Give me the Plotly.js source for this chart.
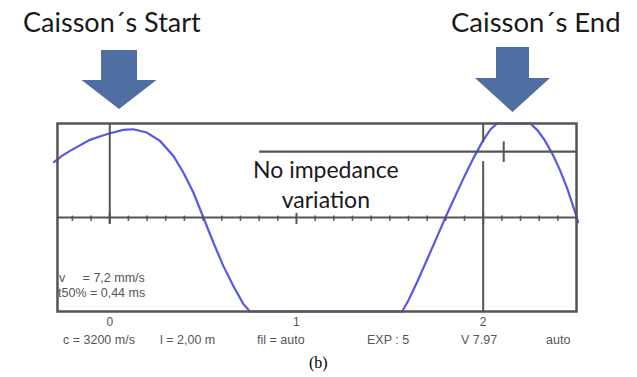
<!DOCTYPE html>
<html>
<head>
<meta charset="utf-8">
<script src="https://cdn.plot.ly/plotly-3.0.1.min.js"></script>
<style>html,body{margin:0;padding:0;background:#fff;}#chart{width:637px;height:377px;}</style>
</head>
<body>
<div id="chart"></div>
<script>
// ---- data ----
const timeX = [-0.302, -0.26, -0.213, -0.16, -0.106, -0.05, 0.002, 0.073, 0.126, 0.198, 0.269, 0.341, 0.394, 0.448, 0.501, 0.555, 0.608, 0.662, 0.716, 0.751,
               1.566, 1.60, 1.65, 1.70, 1.75, 1.80, 1.85, 1.90, 1.95, 2.00, 2.04, 2.075,
               2.253, 2.29, 2.33, 2.37, 2.41, 2.45, 2.49, 2.51];
const velocityY = [0.585, 0.65, 0.709, 0.77, 0.826, 0.865, 0.897, 0.932, 0.939, 0.904, 0.815, 0.655, 0.479, 0.266, -0.007, -0.266, -0.515, -0.728, -0.922, -1.0,
                   -1.0, -0.88, -0.67, -0.45, -0.22, 0.01, 0.23, 0.44, 0.64, 0.82, 0.94, 1.0,
                   1.0, 0.93, 0.82, 0.68, 0.51, 0.31, 0.07, -0.06];
const tickVals = [0, 1, 2];
const tickLabels = ["0", "1", "2"];
const minorTicks = [];
for (let i = -2; i <= 25; i++) minorTicks.push(i / 10);
const infoLabels = ["c = 3200 m/s", "l = 2,00 m", "fil = auto", "EXP : 5", "V 7.97", "auto"];
const statLabels = ["v\u00a0\u00a0\u00a0\u00a0\u00a0= 7,2 mm/s", "t50% = 0,44 ms"];
const titleStart = "Caisson´s Start";
const titleEnd = "Caisson´s End";
const noteText = "No impedance<br>variation";
const captionText = "(b)";

// ---- geometry helpers (pixels -> paper) ----
const W = 637, H = 377, ML = 50, MR = 53, MT = 116, MB = 58;
const PW = W - ML - MR, PH = H - MT - MB;
const px = v => (v - ML) / PW;
const py = v => (H - MB - v) / PH;

const grey = "rgb(85,85,85)";
const shapes = [];
// frame
shapes.push({type: "rect", xref: "x", yref: "y", x0: -0.28, x1: 2.5, y0: -1, y1: 1, line: {color: grey, width: 2.5}});
// midline
shapes.push({type: "line", xref: "x", yref: "y", x0: -0.28, x1: 2.5, y0: 0, y1: 0, line: {color: grey, width: 2.2}});
// minor / major ticks on midline
minorTicks.forEach(t => {
  const major = Math.abs(t - Math.round(t)) < 1e-6;
  if (t < -0.28 || t > 2.5) return;
  shapes.push({type: "line", xref: "x", yref: "y", x0: t, x1: t,
    y0: major ? -0.07 : -0.035, y1: major ? 0.05 : 0.02, line: {color: grey, width: major ? 2 : 1.6}});
});
// vertical at 0
shapes.push({type: "line", xref: "x", yref: "y", x0: 0, x1: 0, y0: -0.06, y1: 1, line: {color: grey, width: 2}});
// vertical at 2 (two segments)
shapes.push({type: "line", xref: "x", yref: "y", x0: 2, x1: 2, y0: 0.80, y1: 1, line: {color: grey, width: 2}});
shapes.push({type: "line", xref: "x", yref: "y", x0: 2, x1: 2, y0: -1, y1: 0.60, line: {color: grey, width: 2}});
// upper horizontal line + small tick
shapes.push({type: "line", xref: "x", yref: "y", x0: 0.80, x1: 2.5, y0: 0.70, y1: 0.70, line: {color: grey, width: 2.2}});
shapes.push({type: "line", xref: "x", yref: "y", x0: 2.11, x1: 2.11, y0: 0.59, y1: 0.81, line: {color: grey, width: 2}});

// arrows
function arrow(cx, shaftHalf, top, headY, headHalf, tipY) {
  const pts = [[cx - shaftHalf, top], [cx + shaftHalf, top], [cx + shaftHalf, headY], [cx + headHalf, headY],
               [cx, tipY], [cx - headHalf, headY], [cx - shaftHalf, headY]];
  return {type: "path", xref: "paper", yref: "paper",
    path: "M" + pts.map(p => px(p[0]) + "," + py(p[1])).join(" L") + " Z",
    fillcolor: "rgb(79,111,163)", line: {width: 0}};
}
shapes.push(arrow(119, 18, 50, 80, 37.5, 109));
shapes.push(arrow(512.5, 16.5, 47, 78, 37.5, 112));

const annotations = [];
const ann = (text, x, y, size, color, family, xanchor) => annotations.push({
  text, xref: "paper", yref: "paper", x: px(x), y: py(y), xanchor: xanchor || "center", yanchor: "middle",
  showarrow: false, font: {size, color, family}
});
ann(titleStart, 112, 21, 27, "#1a1a1a", "Lato, sans-serif");
ann(titleEnd, 536, 21, 27.5, "#1a1a1a", "Lato, sans-serif");
annotations.push({text: noteText, xref: "paper", yref: "paper", x: px(326), y: py(184), xanchor: "center", yanchor: "middle",
  showarrow: false, font: {size: 23, color: "#1a1a1a", family: "Lato, sans-serif"}, align: "center"});
const infoX = [99, 187, 281, 388, 479, 558];
infoLabels.forEach((t, i) => ann(t, infoX[i], 340, 12.5, "#555", "Liberation Sans, sans-serif"));
ann(statLabels[0], 57, 278, 12.5, "#555", "Liberation Sans, sans-serif", "left");
ann(statLabels[1], 56, 293, 12.5, "#555", "Liberation Sans, sans-serif", "left");
ann(captionText, 318, 363, 16, "#000", "Liberation Serif, serif");

const trace = {x: timeX, y: velocityY, type: "scatter", mode: "lines",
  line: {color: "rgb(88,88,232)", width: 2.2}, hoverinfo: "skip"};

const layout = {
  width: W, height: H, margin: {l: ML, r: MR, t: MT, b: MB, pad: 0},
  paper_bgcolor: "#fff", plot_bgcolor: "#fff", showlegend: false,
  xaxis: {range: [-0.32, 2.54], showgrid: false, zeroline: false, showline: false,
    tickmode: "array", tickvals: tickVals, ticktext: tickLabels, ticks: "",
    tickfont: {size: 12, color: "#555", family: "Liberation Sans, sans-serif"}, ticklabelstandoff: -6},
  yaxis: {range: [-1.08, 1.08], showgrid: false, zeroline: false, showline: false, showticklabels: false, ticks: ""},
  shapes, annotations
};
Plotly.newPlot("chart", [trace], layout, {staticPlot: true, displayModeBar: false});
</script>
</body>
</html>
